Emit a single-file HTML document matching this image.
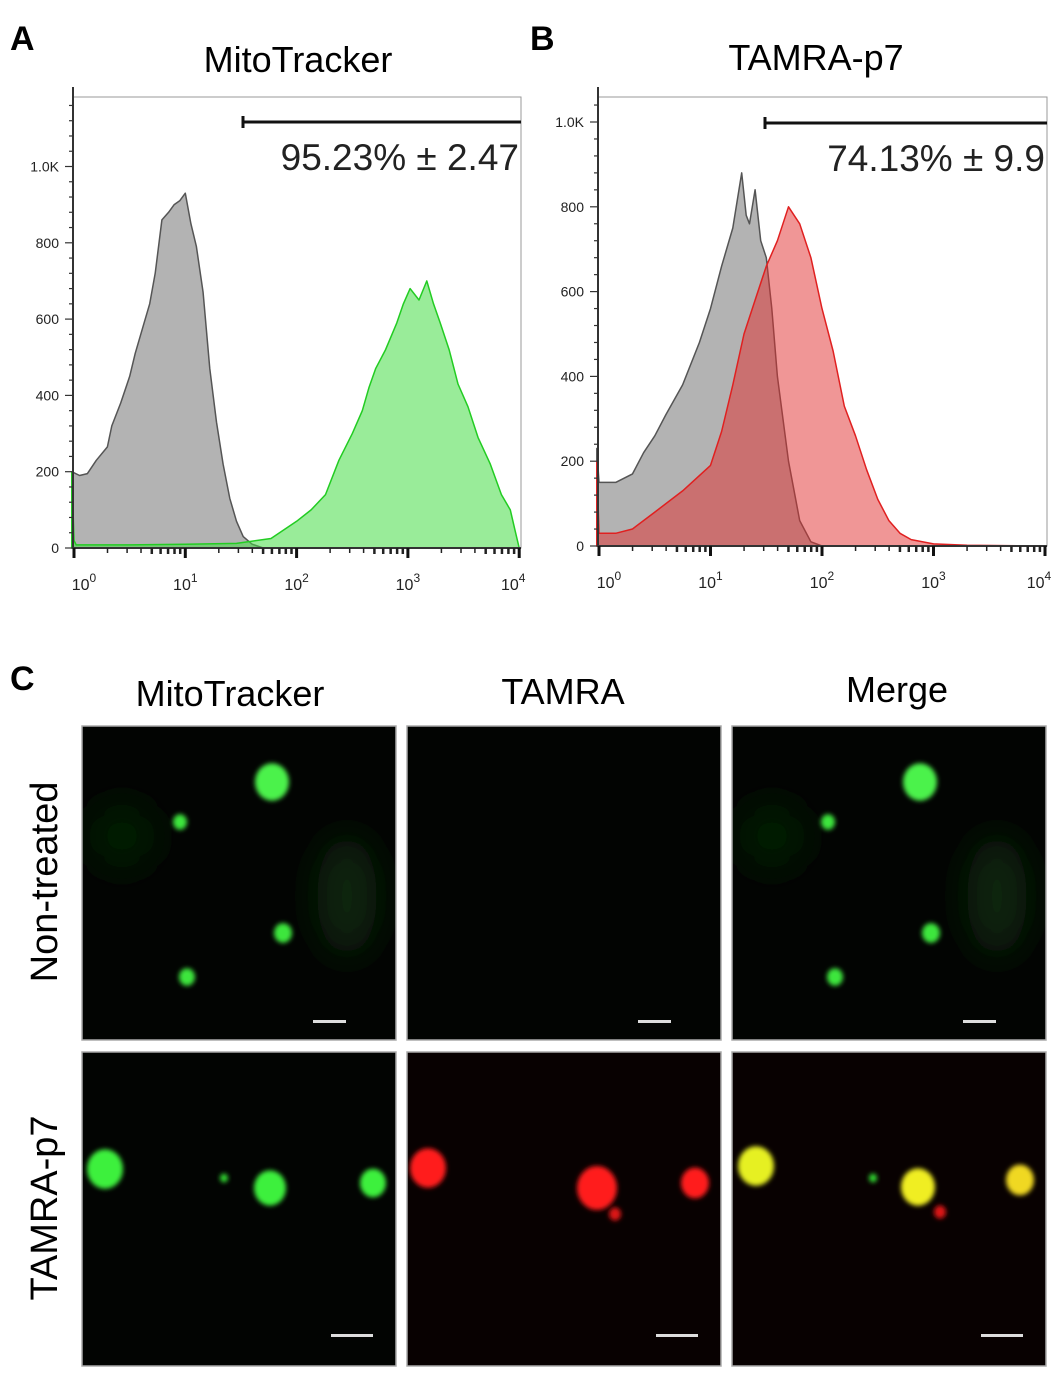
<!DOCTYPE html>
<html><head><meta charset="utf-8"><style>
html,body{margin:0;padding:0;background:#fff}
svg{display:block}
text{font-family:"Liberation Sans",sans-serif}
</style></head><body>
<svg id="fig" width="1063" height="1383" viewBox="0 0 1063 1383" xmlns="http://www.w3.org/2000/svg">
<defs>
<filter id="blur" x="-50%" y="-50%" width="200%" height="200%"><feGaussianBlur stdDeviation="2.5"/></filter>
<filter id="haze" x="-50%" y="-50%" width="200%" height="200%"><feGaussianBlur stdDeviation="18"/></filter>
</defs>
<text x="10" y="50" font-size="34" font-weight="bold">A</text>
<text x="530" y="50" font-size="34" font-weight="bold">B</text>
<text x="10" y="690" font-size="34" font-weight="bold">C</text>
<text x="298" y="72" font-size="36" text-anchor="middle">MitoTracker</text>
<text x="816" y="70" font-size="36" text-anchor="middle">TAMRA-p7</text>
<g id="chartA"></g>
<g id="chartB"></g>
<text x="230" y="706" font-size="36" text-anchor="middle">MitoTracker</text>
<text x="563" y="704" font-size="36" text-anchor="middle">TAMRA</text>
<text x="897" y="702" font-size="36" text-anchor="middle">Merge</text>
<text transform="translate(57,882) rotate(-90)" font-size="38" text-anchor="middle">Non-treated</text>
<text transform="translate(57,1208) rotate(-90)" font-size="38" text-anchor="middle">TAMRA-p7</text>
<g id="micro"></g>
</svg>
<script>
const NS="http://www.w3.org/2000/svg";
// Panel A data (log10 intensity, count)
const aGrayLog=[-0.02,0.05,0.12,0.2,0.3,0.34,0.42,0.5,0.55,0.62,0.68,0.73,0.79,0.85,0.9,0.95,1.0,1.05,1.1,1.16,1.22,1.28,1.34,1.4,1.46,1.52,1.6,1.7];
const aGrayVal=[200,190,195,230,265,320,380,450,510,580,640,720,860,880,900,910,930,850,790,670,470,330,220,130,70,30,10,0];
const aGreenLog=[-0.02,0.0,0.02,0.5,1.0,1.46,1.77,2.0,2.13,2.26,2.38,2.5,2.59,2.65,2.71,2.8,2.9,2.96,3.02,3.1,3.17,3.23,3.29,3.37,3.45,3.54,3.63,3.74,3.84,3.92,3.96,4.0];
const aGreenVal=[200,20,8,8,10,12,25,70,100,140,230,300,360,420,470,520,590,640,680,650,700,640,590,520,430,370,290,220,140,100,50,0];
// Panel B data
const bGrayLog=[-0.02,0.0,0.15,0.3,0.4,0.5,0.6,0.75,0.9,1.0,1.1,1.2,1.28,1.32,1.35,1.4,1.45,1.5,1.55,1.6,1.7,1.8,1.9,2.0];
const bGrayVal=[230,150,150,170,220,260,310,380,480,560,660,750,880,780,760,840,720,680,560,400,200,60,10,0];
const bRedLog=[-0.02,0.0,0.15,0.3,0.5,0.75,1.0,1.1,1.2,1.3,1.4,1.5,1.6,1.7,1.8,1.9,2.0,2.1,2.2,2.3,2.4,2.5,2.6,2.7,2.8,3.0,3.3,4.0];
const bRedVal=[200,30,30,40,80,130,190,270,380,500,580,660,720,800,760,680,560,460,330,260,180,110,60,30,15,5,2,0];
const yTicksA=[0,200,400,600,800,1000];
const yTicksB=[0,200,400,600,800,1000];
const yLabels=["0","200","400","600","800","1.0K"];
const decades=[0,1,2,3,4];

function el(tag,attrs,parent){const e=document.createElementNS(NS,tag);for(const k in attrs)e.setAttribute(k,attrs[k]);parent.appendChild(e);return e;}

function chart(g,cfg){
  const X=v=>cfg.x0+v*cfg.dec, Y=v=>cfg.y0-v*cfg.ky;
  const box=el('rect',{x:cfg.left,y:cfg.top,width:cfg.right-cfg.left,height:cfg.y0-cfg.top,fill:'#fff',stroke:'#999','stroke-width':1},g);
  
  function area(logs,vals,fill,stroke,name){
    let d='M'+X(logs[0])+','+Y(0);
    for(let i=0;i<logs.length;i++)d+=' L'+X(logs[i]).toFixed(1)+','+Y(vals[i]).toFixed(1);
    d+=' L'+X(logs[logs.length-1])+','+Y(0)+' Z';
    const p=el('path',{d:d,fill:fill,stroke:stroke,'stroke-width':1.5,'stroke-linejoin':'round'},g);
    
  }
  cfg.series.forEach(s=>area(s.l,s.v,s.fill,s.stroke,s.name));
  el('line',{x1:cfg.left,y1:cfg.top-10,x2:cfg.left,y2:cfg.y0,stroke:'#333','stroke-width':2},g);
  el('line',{x1:cfg.left,y1:cfg.y0,x2:cfg.right,y2:cfg.y0,stroke:'#333','stroke-width':2},g);
  for(let v=0;v<=cfg.ymax;v+=40){el('line',{x1:cfg.left-(v%200===0?8:4),y1:Y(v),x2:cfg.left,y2:Y(v),stroke:'#333','stroke-width':1.2},g);}
  cfg.yt.forEach((v,i)=>{const t=el('text',{x:cfg.left-14,y:Y(v)+5,'font-size':14,'text-anchor':'end',fill:'#222'},g);t.textContent=yLabels[i];
    });
  decades.forEach(dd=>{
    el('line',{x1:X(dd),y1:cfg.y0,x2:X(dd),y2:cfg.y0+10,stroke:'#111','stroke-width':3},g);
    if(dd<4)for(let m=2;m<=9;m++){const xx=X(dd+Math.log10(m));el('line',{x1:xx,y1:cfg.y0,x2:xx,y2:cfg.y0+(m>=5?6:5),stroke:'#222','stroke-width':m>=5?2.5:1.5},g);}
    const t=el('text',{x:X(dd)+(dd===0?10:dd===4?-6:0),y:cfg.y0+42,'font-size':16,'text-anchor':'middle',fill:'#222'},g);
    t.textContent='10';
    const s=el('tspan',{dy:-8,'font-size':12},t);s.textContent=String(dd);
  });
  const gy=cfg.gateY;
  el('line',{x1:cfg.gateX,y1:gy,x2:cfg.right,y2:gy,stroke:'#111','stroke-width':3},g);
  el('line',{x1:cfg.gateX,y1:gy-6,x2:cfg.gateX,y2:gy+6,stroke:'#111','stroke-width':3},g);
  const gt=el('text',{x:cfg.right-2,y:gy+48,'font-size':37,'text-anchor':'end',fill:'#222'},g);
  gt.textContent=cfg.gateText;
}
chart(document.getElementById('chartA'),{left:73,right:521,top:97,x0:74,dec:111.3,y0:548,ky:0.3815,ymax:1160,yt:yTicksA,gateX:243,gateY:122,gateText:'95.23% ± 2.47',
  series:[{l:aGrayLog,v:aGrayVal,fill:'#b3b3b3',stroke:'#555',name:'control-histogram'},{l:aGreenLog,v:aGreenVal,fill:'rgba(70,220,70,0.55)',stroke:'#22cc22',name:'mitotracker-histogram'}]});
chart(document.getElementById('chartB'),{left:598,right:1047,top:97,x0:599,dec:111.5,y0:546,ky:0.424,ymax:1040,yt:yTicksB,gateX:765,gateY:123,gateText:'74.13% ± 9.9',
  series:[{l:bGrayLog,v:bGrayVal,fill:'#b3b3b3',stroke:'#555',name:'control-histogram'},{l:bRedLog,v:bRedVal,fill:'rgba(225,45,45,0.5)',stroke:'#e02020',name:'tamra-p7-histogram'}]});

const M=document.getElementById('micro');
const defs=document.querySelector('defs');
const cols=[82,407,732], rows=[726,1052], W=314, H=314;
const names=['mitotracker','tamra','merge'];
const spots=[
 [
  [[272,782,17,'#4cf24c'],[180,822,7,'#3ee63e'],[283,933,9,'#3ee63e'],[187,977,8,'#3ee63e']],
  [],
  [[920,782,17,'#4cf24c'],[828,822,7,'#3ee63e'],[931,933,9,'#3ee63e'],[835,977,8,'#3ee63e']]
 ],
 [
  [[105,1169,18,'#3ef03e'],[224,1178,4,'#33dd33'],[270,1188,16,'#3ef03e'],[373,1183,13,'#3ef03e']],
  [[428,1168,18,'#ff1a1a'],[597,1188,20,'#ff1a1a'],[695,1183,14,'#ff1a1a'],[615,1214,6,'#dd1515']],
  [[756,1166,18,'#e6f020'],[873,1178,4,'#33dd33'],[918,1187,17,'#f0ee20'],[1020,1180,14,'#f0d820'],[940,1212,6,'#dd1515']]
 ]];
rows.forEach((ry,ri)=>cols.forEach((cx,ci)=>{
  const cid='clip'+ri+ci;
  const cp=el('clipPath',{id:cid},defs);el('rect',{x:cx,y:ry,width:W,height:H},cp);
  const g=el('g',{'clip-path':'url(#'+cid+')'},M);
  el('rect',{x:cx,y:ry,width:W,height:H,fill:ri===1&&ci>0?'#080101':'#020402'},g);
  if(ri===0&&ci!==1){el('ellipse',{cx:cx+265,cy:ry+170,rx:30,ry:60,fill:'#082808',filter:'url(#haze)'},g);el('ellipse',{cx:cx+40,cy:ry+110,rx:35,ry:35,fill:'#061d06',filter:'url(#haze)'},g);}
  spots[ri][ci].forEach(s=>el('ellipse',{cx:s[0],cy:s[1],rx:s[2],ry:s[2]*1.1,fill:s[3],filter:'url(#blur)'},g));
  const by=ri?ry+282:ry+294, bx=ri?cx+249:cx+231, bw=ri?42:33;
  const b=el('rect',{x:bx,y:by,width:bw,height:3,fill:'#ddd'},g);
  el('rect',{x:cx,y:ry,width:W,height:H,fill:'none',stroke:'#aaa','stroke-width':1.5},M);
}));
</script>
</body></html>
